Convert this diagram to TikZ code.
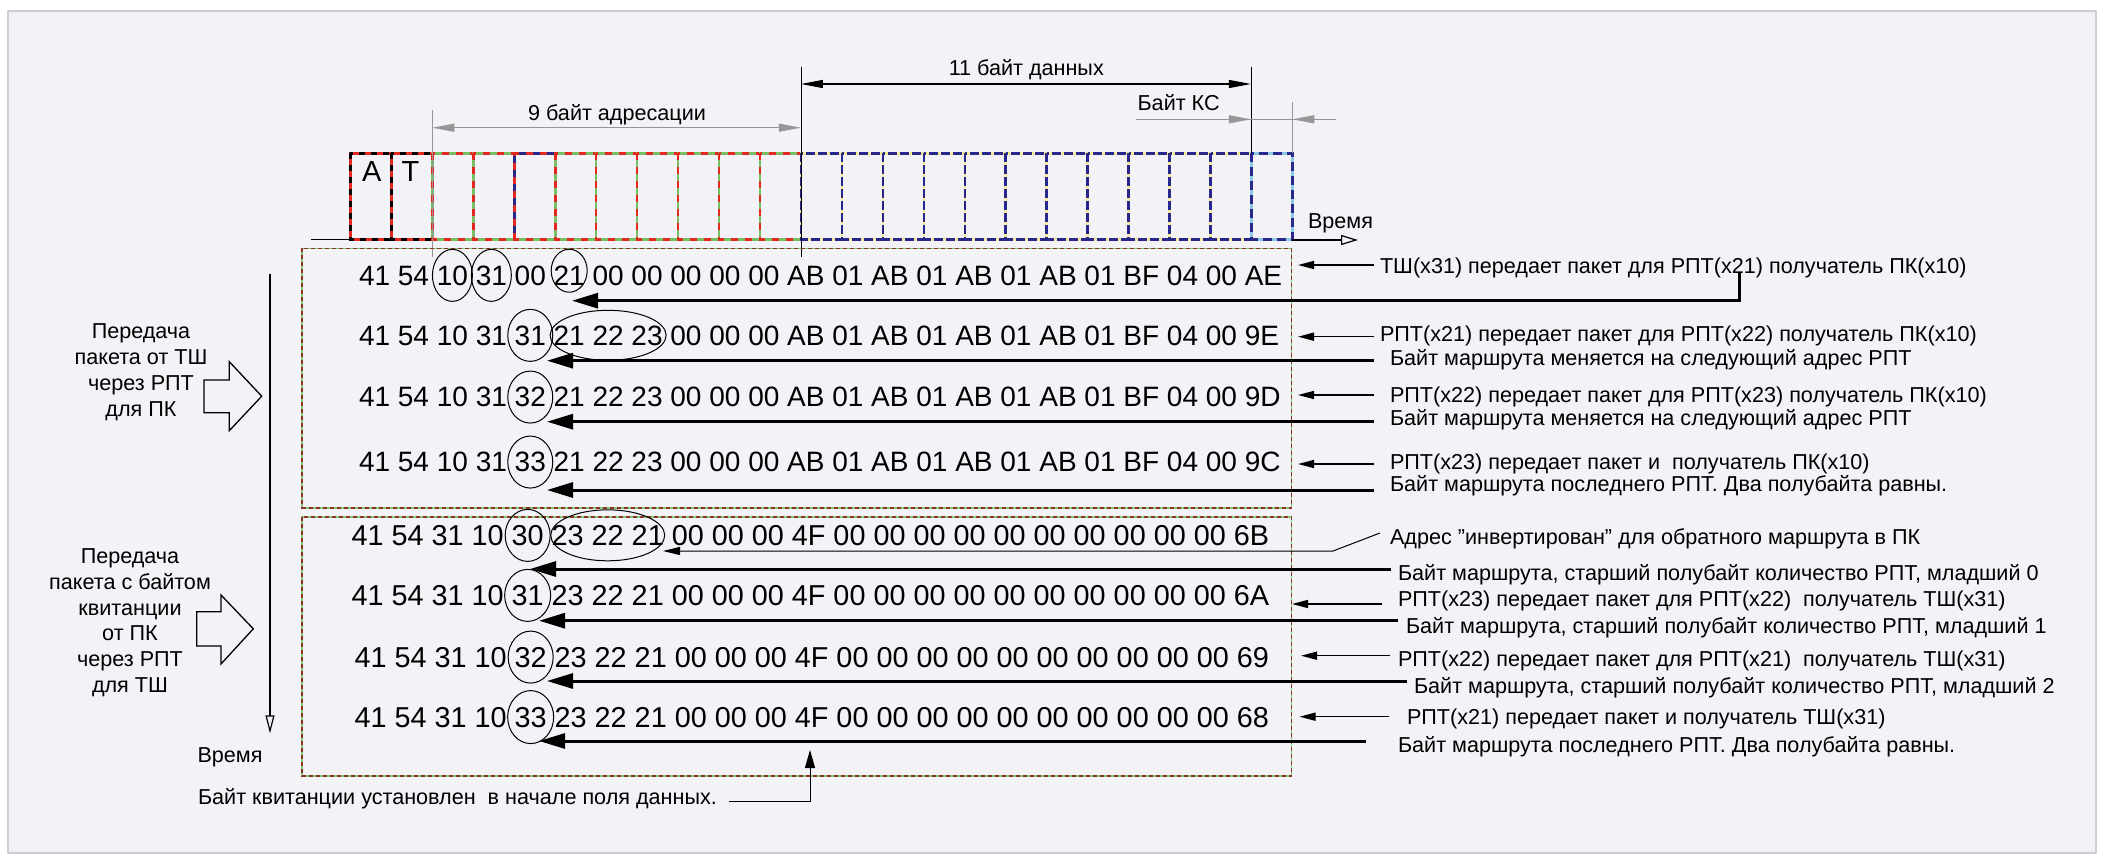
\documentclass[tikz,border=0pt]{standalone}
\usepackage{fontspec}
\setmainfont{Liberation Sans}
\usetikzlibrary{arrows.meta,calc}
\definecolor{bgc}{RGB}{242,242,247}
\definecolor{framec}{RGB}{205,205,210}
\definecolor{cred}{RGB}{228,40,30}
\definecolor{cgreen}{RGB}{120,190,100}
\definecolor{cnavy}{RGB}{40,40,140}
\definecolor{cyel}{RGB}{245,235,150}
\definecolor{csky}{RGB}{140,200,230}
\definecolor{cgray}{RGB}{150,150,150}
\definecolor{pred}{RGB}{140,50,40}
\definecolor{pgreen}{RGB}{130,200,110}
\newcommand\smallf{\fontsize{21.6}{26}\selectfont}
\newcommand\smallfb{\fontsize{21.6}{25.7}\selectfont}
\newcommand\hexfa{\fontsize{28}{32}\selectfont}
\newcommand\hexfb{\fontsize{28.8}{32}\selectfont}
\newcommand\hexrow[6]{%
  \foreach \hx [count=\i] in {#6}{%
    \ifnum\i=1\relax
      \node[hexb,font=#4,anchor=base west] (#1-1) at (#2,#3) {\hx};
    \else
      \pgfmathtruncatemacro\j{\i-1}%
      \node[hexb,font=#4,anchor=base west] (#1-\i) at ([xshift=#5]#1-\j.base east) {\hx};
    \fi
  }%
}
\tikzset{dimtip/.tip={Triangle[length=22pt,width=8pt]}}
\begin{document}
\begin{tikzpicture}[x=1pt,y=-1pt,line join=miter,
  hexb/.style={inner sep=0pt,outer sep=0pt},
  lbl/.style={inner sep=0pt,outer sep=0pt,font=\smallf,anchor=base west},
  ring/.style={draw=black,line width=1pt},
  bigarr/.style={line width=3pt,-{Triangle[length=26pt,width=15pt]}},
  smallarr/.style={line width=1.5pt,-{Triangle[length=16pt,width=8pt]}},
  extline/.style={line width=0.8pt},
  panelbase/.style={line width=1.6pt,draw=pgreen},
  paneldash/.style={line width=1.6pt,draw=pred,dash pattern=on 4pt off 3pt},
  blockarr/.style={line width=1.3pt,draw=black,fill=bgc}
]
\useasboundingbox (0,0) rectangle (2108,864);
\fill[white] (0,0) rectangle (2108,864);
\draw[fill=bgc,draw=framec,line width=1.5pt] (8,11) rectangle (2096,853);

% ---------- header cells ----------
\foreach \i in {0,1}{
  \pgfmathsetmacro\xa{350.4+\i*40.96}\pgfmathsetmacro\xb{\xa+40.96}
  \draw[line width=2.6pt,draw=cred] (\xa,153.3) rectangle (\xb,239.5);
  \draw[line width=2.6pt,draw=black,dash pattern=on 6pt off 6pt] (\xa,153.3) rectangle (\xb,239.5);
}
\foreach \i in {2,...,10}{
  \pgfmathsetmacro\xa{350.4+\i*40.96}\pgfmathsetmacro\xb{\xa+40.96}
  \draw[line width=2.6pt,draw=cgreen] (\xa,153.3) rectangle (\xb,239.5);
  \draw[line width=2.6pt,draw=cred,dash pattern=on 7pt off 7pt] (\xa,153.3) rectangle (\xb,239.5);
}
\foreach \i in {11,...,21}{
  \pgfmathsetmacro\xa{350.4+\i*40.96}\pgfmathsetmacro\xb{\xa+40.96}
  \draw[line width=2.6pt,draw=cyel] (\xa,153.3) rectangle (\xb,239.5);
  \draw[line width=2.6pt,draw=cnavy,dash pattern=on 9pt off 3pt] (\xa,153.3) rectangle (\xb,239.5);
}
\draw[line width=2.6pt,draw=csky] (1251.5,153.3) rectangle (1292.4,239.5);
\draw[line width=2.6pt,draw=cnavy,dash pattern=on 9pt off 5pt] (1251.5,153.3) rectangle (1292.4,239.5);
\draw[line width=2.6pt,draw=cnavy] (514.2,239.5) -- (514.2,153.3) -- (555.2,153.3);
\draw[line width=2.6pt,draw=cred,dash pattern=on 7pt off 7pt] (514.2,239.5) -- (514.2,153.3) -- (555.2,153.3);

\node[hexb,font=\fontsize{29}{32}\selectfont,anchor=base west] (hA) at (362,181.7) {A};
\node[hexb,font=\fontsize{29}{32}\selectfont,anchor=base west] (hT) at (401.5,181.7) {T};

% time axis (horizontal)
\coordinate (tl0) at (311,239.5); \coordinate (tl1) at (350.4,239.5);
\draw[line width=1.2pt] (tl0) -- (tl1);
\coordinate (th0) at (1292.4,240); \coordinate (th1) at (1358,240);
\draw[line width=1.2pt,-{Triangle[length=17pt,width=10pt,fill=bgc]}] (th0) -- (th1);
\node[hexb,font=\smallf,anchor=base] (vremya1) at (1340.5,228) {Время};

% dimension lines
\coordinate (e1a) at (432.3,110); \coordinate (e1b) at (432.3,257);
\draw[extline,cgray] (e1a) -- (e1b);
\coordinate (e2a) at (800.9,66.7); \coordinate (e2b) at (800.9,257);
\draw[extline,black] (e2a) -- (e2b);
\coordinate (e3a) at (1250.9,66.7); \coordinate (e3b) at (1250.9,153.3);
\draw[extline,black] (e3a) -- (e3b);
\coordinate (e4a) at (1292.4,101.7); \coordinate (e4b) at (1292.4,153.3);
\draw[extline,cgray] (e4a) -- (e4b);

\coordinate (d9a) at (432.3,127.7); \coordinate (d9b) at (800.9,127.7);
\draw[line width=1.2pt,cgray,{dimtip}-{dimtip}] (d9a) -- (d9b);
\node[hexb,font=\smallf,anchor=base] (t9) at (617,121) {9 байт адресации};

\coordinate (d11a) at (800.9,84); \coordinate (d11b) at (1250.9,84);
\draw[line width=1.2pt,black,{dimtip}-{dimtip}] (d11a) -- (d11b);
\node[hexb,font=\smallf,anchor=base] (t11) at (1026.3,76) {11 байт данных};

\coordinate (dka) at (1136,119.3); \coordinate (dkb) at (1336,119.3);
\coordinate (dkc) at (1250.9,119.3); \coordinate (dkd) at (1292.4,119.3);
\draw[line width=1.2pt,cgray] (dka) -- (dkb);
\draw[line width=1.2pt,cgray,-{dimtip}] (dka) -- (dkc);
\draw[line width=1.2pt,cgray,-{dimtip}] (dkb) -- (dkd);
\node[hexb,font=\smallf,anchor=base] (tks) at (1178.6,111) {Байт КС};

% ---------- panels ----------
\draw[panelbase] (302,248.3) rectangle (1291.5,507.7);
\draw[paneldash] (302,248.3) rectangle (1291.5,507.7);
\draw[panelbase] (302,516.7) rectangle (1291.5,776);
\draw[paneldash] (302,516.7) rectangle (1291.5,776);

% ---------- rows ----------
\hexrow{r1}{359}{285}{\hexfa}{7.78pt}{41,54,10,31,00,21,00,00,00,00,00,AB,01,AB,01,AB,01,AB,01,BF,04,00,AE}
\hexrow{r2}{359}{345}{\hexfa}{7.78pt}{41,54,10,31,31,21,22,23,00,00,00,AB,01,AB,01,AB,01,AB,01,BF,04,00,9E}
\hexrow{r3}{359}{406.7}{\hexfa}{7.78pt}{41,54,10,31,32,21,22,23,00,00,00,AB,01,AB,01,AB,01,AB,01,BF,04,00,9D}
\hexrow{r4}{359}{471.7}{\hexfa}{7.78pt}{41,54,10,31,33,21,22,23,00,00,00,AB,01,AB,01,AB,01,AB,01,BF,04,00,9C}
\hexrow{r5}{351.5}{545.3}{\hexfb}{8.0pt}{41,54,31,10,30,23,22,21,00,00,00,4F,00,00,00,00,00,00,00,00,00,00,6B}
\hexrow{r6}{351.5}{605.3}{\hexfb}{8.0pt}{41,54,31,10,31,23,22,21,00,00,00,4F,00,00,00,00,00,00,00,00,00,00,6A}
\hexrow{r7}{354.5}{667}{\hexfb}{8.0pt}{41,54,31,10,32,23,22,21,00,00,00,4F,00,00,00,00,00,00,00,00,00,00,69}
\hexrow{r8}{354.5}{727}{\hexfb}{8.0pt}{41,54,31,10,33,23,22,21,00,00,00,4F,00,00,00,00,00,00,00,00,00,00,68}

% circles
\draw[ring] (r1-3.center) ellipse [x radius=20pt,y radius=26pt];
\draw[ring] (r1-4.center) ellipse [x radius=20pt,y radius=26pt];
\draw[ring] ([yshift=4.5pt]r1-6.center) ellipse [x radius=18pt,y radius=21.5pt];
\draw[ring] (r2-5.center) ellipse [x radius=22.5pt,y radius=26pt];
\draw[ring] ($(r2-6.center)!0.5!(r2-8.center)$) ellipse [x radius=58pt,y radius=25pt];
\draw[ring] (r3-5.center) ellipse [x radius=22.5pt,y radius=26pt];
\draw[ring] (r4-5.center) ellipse [x radius=22.5pt,y radius=26pt];
\draw[ring] (r5-5.center) ellipse [x radius=22.5pt,y radius=26pt];
\draw[ring] ($(r5-6.center)!0.5!(r5-8.center)$) ellipse [x radius=57pt,y radius=25.5pt];
\draw[ring] (r6-5.center) ellipse [x radius=23pt,y radius=26pt];
\draw[ring] (r7-5.center) ellipse [x radius=22.5pt,y radius=26pt];
\draw[ring] (r8-5.center) ellipse [x radius=23pt,y radius=26.5pt];

% ---------- right labels ----------
\node[lbl] (l1) at (1380,273) {ТШ(x31) передает пакет для РПТ(x21) получатель ПК(x10)};
\node[lbl] (l2) at (1380,341) {РПТ(x21) передает пакет для РПТ(x22) получатель ПК(x10)};
\node[lbl] (l2b) at (1390,365.5) {Байт маршрута меняется на следующий адрес РПТ};
\node[lbl] (l3) at (1390,402.5) {РПТ(x22) передает пакет для РПТ(x23) получатель ПК(x10)};
\node[lbl] (l3b) at (1390,425.5) {Байт маршрута меняется на следующий адрес РПТ};
\node[lbl] (l4) at (1390,469) {РПТ(x23) передает пакет и \ получатель ПК(x10)};
\node[lbl] (l4b) at (1390,491.5) {Байт маршрута последнего РПТ. Два полубайта равны.};
\node[lbl] (l5) at (1390,544.5) {Адрес "инвертирован" для обратного маршрута в ПК};
\node[lbl] (l5b) at (1398,580) {Байт маршрута, старший полубайт количество РПТ, младший 0};
\node[lbl] (l6) at (1398,606.5) {РПТ(x23) передает пакет для РПТ(x22) \ получатель ТШ(x31)};
\node[lbl] (l6b) at (1406,633) {Байт маршрута, старший полубайт количество РПТ, младший 1};
\node[lbl] (l7) at (1398,666) {РПТ(x22) передает пакет для РПТ(x21) \ получатель ТШ(x31)};
\node[lbl] (l7b) at (1414,693) {Байт маршрута, старший полубайт количество РПТ, младший 2};
\node[lbl] (l8) at (1407,724) {РПТ(x21) передает пакет и получатель ТШ(x31)};
\node[lbl] (l8b) at (1398,752.5) {Байт маршрута последнего РПТ. Два полубайта равны.};

% small arrows (label -> end of row)
\coordinate (s1a) at (1374,265);   \coordinate (s1b) at (1298,265);
\coordinate (s2a) at (1374,336.7); \coordinate (s2b) at (1298,336.7);
\coordinate (s3a) at (1374,395);   \coordinate (s3b) at (1298,395);
\coordinate (s4a) at (1374,464);   \coordinate (s4b) at (1298,464);
\coordinate (s6a) at (1382,604);   \coordinate (s6b) at (1292,604);
\coordinate (s7a) at (1390,655.7); \coordinate (s7b) at (1301,655.7);
\coordinate (s8a) at (1389,716.7); \coordinate (s8b) at (1299.5,716.7);
\foreach \k in {1,2,3,4,6,7,8}{\draw[smallarr] (s\k a) -- (s\k b);}

% long arrows (route byte)
\coordinate (b1a) at (1739,273); \coordinate (b1c) at (1739,300.7); \coordinate (b1b) at (572,300.7);
\draw[bigarr] (b1a) -- (b1c) -- (b1b);
\coordinate (b2a) at (1374,360.7); \coordinate (b2b) at (547,360.7);
\coordinate (b3a) at (1374,421.7); \coordinate (b3b) at (547,421.7);
\coordinate (b4a) at (1374,490);   \coordinate (b4b) at (547,490);
\coordinate (b5a) at (1391,569);   \coordinate (b5b) at (530,569);
\coordinate (b6a) at (1398,620.7); \coordinate (b6b) at (539,620.7);
\coordinate (b7a) at (1407,681);   \coordinate (b7b) at (547,681);
\coordinate (b8a) at (1365.6,741); \coordinate (b8b) at (539,741);
\foreach \k in {2,...,8}{\draw[bigarr] (b\k a) -- (b\k b);}

% leader for inverted address
\coordinate (ld0) at (1380,533); \coordinate (ld1) at (1333,551); \coordinate (ld2) at (663,551);
\draw[line width=1pt,-{Triangle[length=17pt,width=8pt]}] (ld0) -- (ld1) -- (ld2);

% bottom note
\node[lbl] (kv) at (198,804.5) {Байт квитанции установлен \ в начале поля данных.};
\coordinate (kv1) at (728.6,801.7); \coordinate (kv2) at (810,801.7); \coordinate (kv3) at (810,750);
\draw[line width=1pt,-{Triangle[length=18pt,width=10pt]}] (kv1) -- (kv2) -- (kv3);

% ---------- left side ----------
\coordinate (tv0) at (270,274.3); \coordinate (tv1) at (270,733.3);
\draw[line width=1.2pt,-{Triangle[length=18pt,width=9pt,fill=bgc]}] (tv0) -- (tv1);
\node[hexb,font=\smallf,anchor=base] (vremya2) at (230,762.3) {Время};

\node[hexb,font=\smallf,align=center,anchor=north] (lab1) at (141,323.6)
  {Передача\\пакета от ТШ\\через РПТ\\для ПК};
\node[hexb,font=\smallfb,align=center,anchor=north] (lab2) at (130,548.8)
  {Передача\\пакета с байтом\\квитанции\\от ПК\\через РПТ\\для ТШ};

\draw[blockarr] (204,380) -- (229.3,380) -- (229.3,361.7) -- (261.7,396.2)
  -- (229.3,430.7) -- (229.3,412.7) -- (204,412.7) -- cycle;
\draw[blockarr] (196.7,611.7) -- (221,611.7) -- (221,595) -- (253.3,628.8)
  -- (221,664) -- (221,646) -- (196.7,646) -- cycle;
\end{tikzpicture}
\end{document}
